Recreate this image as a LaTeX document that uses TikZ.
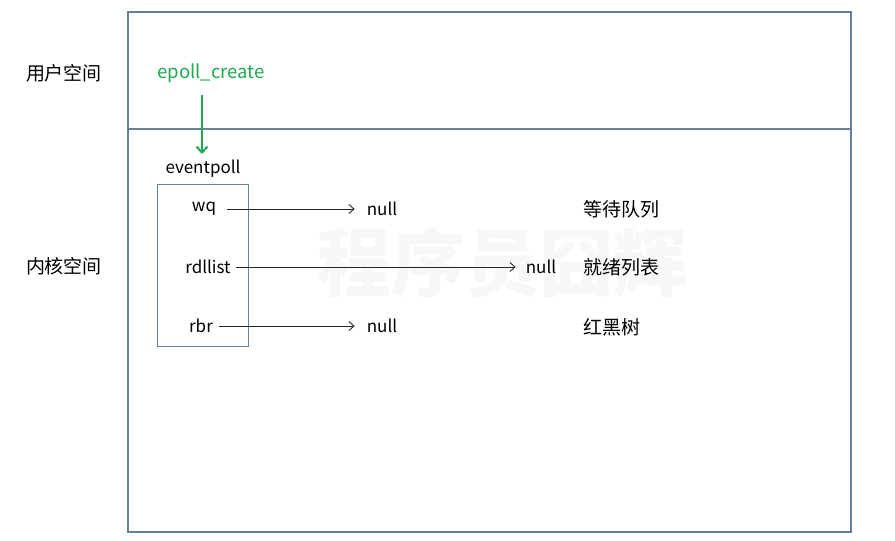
\documentclass[tikz,border=0pt]{standalone}
\usepackage{fontspec}
\setmainfont{Noto Sans CJK SC}
\usetikzlibrary{arrows.meta}
\definecolor{frame}{RGB}{100,128,158}
\definecolor{epgreen}{RGB}{30,170,80}
\tikzset{
  lbl/.style={font=\fontsize{17}{19}\selectfont, inner sep=0pt, anchor=center},
  cn/.style={font=\fontsize{19}{21}\selectfont, inner sep=0pt},
  ptr/.style={draw=black!85, line width=0.9pt, -{Straight Barb[length=5pt,width=9pt]}},
  frm/.style={draw=frame, line width=1.3pt}
}
\begin{document}
\begin{tikzpicture}[x=1pt,y=-1pt]
\useasboundingbox[fill=white] (0,0) rectangle (895,541);
% watermark
\node[font=\bfseries\fontsize{74}{80}\selectfont, text=black!3, inner sep=0pt] (wm) at (502,262) {程序员囧辉};
% frames
\draw[frm] (128,12) rectangle (851,532);
\coordinate (dl) at (128,129);
\coordinate (dr) at (851,129);
\draw[frm] (dl) -- (dr);
\node[cn] (us) at (64,73) {用户空间};
\node[cn] (ks) at (64,266) {内核空间};
% epoll_create
\node[font=\fontsize{18.5}{20}\selectfont, text=epgreen, inner sep=0pt] (ec) at (211,73) {epoll\_create};
\coordinate (ga) at (202,95);
\coordinate (gb) at (202,154);
\draw[draw=epgreen, line width=2pt, -{Straight Barb[length=6pt,width=11pt]}] (ga) -- (gb);
\node[lbl] (ep) at (203,169) {eventpoll};
\draw[frm, line width=1pt] (157,184) rectangle (248,346);
% fields
\node[lbl] (wq) at (204,209) {wq};
\node[lbl] (rd) at (208,267) {rdllist};
\node[lbl] (rb) at (201,326) {rbr};
\node[lbl] (n1) at (382,209) {null};
\node[lbl] (n2) at (541,267) {null};
\node[lbl] (n3) at (382,326) {null};
\draw[ptr] ([xshift=11pt]wq.east) -- ([xshift=-12pt]n1.west);
\draw[ptr] ([xshift=5pt]rd.east) -- ([xshift=-10pt]n2.west);
\draw[ptr] ([xshift=6pt]rb.east) -- ([xshift=-12pt]n3.west);
% chinese labels
\node[cn, anchor=west] (c1) at (583,209) {等待队列};
\node[cn, anchor=west] (c2) at (583,267) {就绪列表};
\node[cn, anchor=west] (c3) at (583,327) {红黑树};
\end{tikzpicture}
\end{document}
